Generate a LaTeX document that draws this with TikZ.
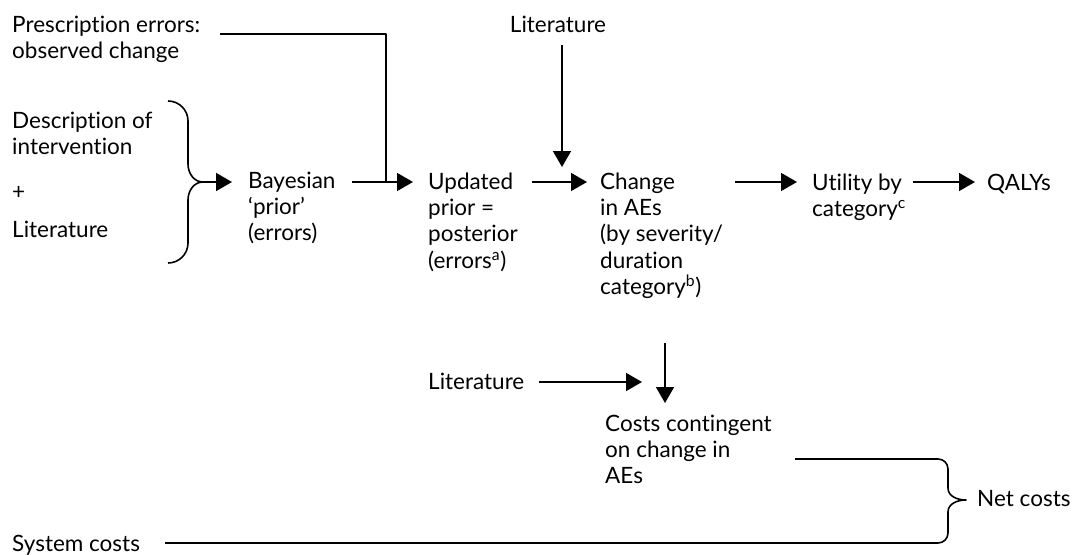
\documentclass[tikz,border=0pt]{standalone}
\usepackage{fontspec}
\setmainfont{Lato}[Ligatures={NoCommon}]
\usetikzlibrary{arrows.meta}
\newcommand\topst{\rule{0pt}{20pt}}
\begin{document}
\begin{tikzpicture}[x=1pt,y=-1pt,
  txt/.style={font=\fontsize{22.5}{26.3}\selectfont, align=left, inner sep=0pt, anchor=north west},
  ln/.style={line width=1.6pt, line join=round},
  arr/.style={ln, -{Triangle[length=16pt,width=18pt]}}]
\path[use as bounding box] (0,0) rectangle (1086,554);
% texts
\node[txt] (presc) at (12,12) {\topst Prescription errors:\\observed change};
\node[txt,anchor=north] (lit1) at (558,12) {\topst Literature};
\node[txt] (descr) at (12,108) {\topst Description of\\intervention};
\node[txt] (plus) at (12,179) {\topst +};
\node[txt] (lit2) at (12,217) {\topst Literature};
\node[txt] (bayes) at (248,168) {\topst Bayesian\\‘prior’\\(errors)};
\node[txt] (upd) at (428,169) {\topst Updated\\prior =\\posterior\\(errors\textsuperscript{a})};
\node[txt] (chg) at (600,169) {\topst Change\\in AEs\\(by severity/\\duration\\category\textsuperscript{b})};
\node[txt] (util) at (812,170) {\topst Utility by\\category\textsuperscript{c}};
\node[txt] (qaly) at (987,170) {\topst QALYs};
\node[txt] (lit3) at (428,369) {\topst Literature};
\node[txt] (costs) at (605,411) {\topst Costs contingent\\on change in\\AEs};
\node[txt] (net) at (977,486) {\topst Net costs};
\node[txt] (sys) at (12,531) {\topst System costs};
% coordinates
\coordinate (bt) at (203,182);
\coordinate (pj) at (386,182);
\coordinate (lj) at (562,167);
\coordinate (rt) at (966,500);
% left brace
\draw[ln] (168,101) to[out=0,in=90] (188,121) -- (188,164) to[out=-90,in=180] (bt)
  to[out=180,in=90] (188,200) -- (188,243) to[out=-90,in=0] (168,263);
\draw[arr] (bt) -- (232,182);
% prescription line
\draw[ln] (220,34) -- (386,34) -- (pj);
% main arrows
\draw[arr] (352,182) -- (413,182);
\draw[arr] (532,182) -- (587,182);
\draw[arr] (562,45) -- (lj);
\draw[arr] (735,182) -- (797,182);
\draw[arr] (913,182) -- (975,182);
% lower
\draw[arr] (665,343) -- (665,403);
\draw[arr] (539,382) -- (642,382);
% right brace
\draw[ln] (795,459) -- (938,459) to[out=0,in=90] (948,469) -- (948,488) to[out=-90,in=180] (rt)
  to[out=180,in=90] (948,512) -- (948,533) to[out=-90,in=0] (938,543) -- (165,543);
\end{tikzpicture}
\end{document}
